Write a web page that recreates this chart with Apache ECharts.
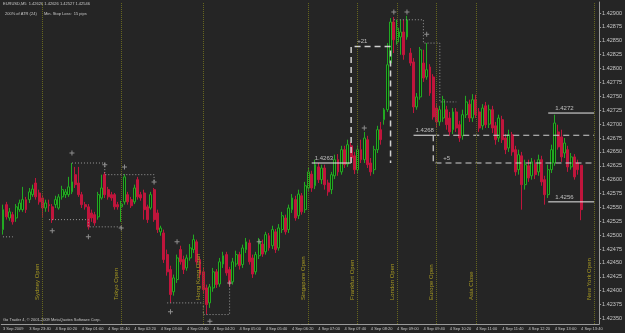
<!DOCTYPE html>
<html><head><meta charset="utf-8">
<script src="https://cdn.jsdelivr.net/npm/echarts@6/dist/echarts.min.js"></script>
<style>html,body{margin:0;padding:0;background:#252525;}#c{width:625px;height:333px;}</style>
</head><body><div id="c"></div>
<script>
const opens=[1.42510,1.42555,1.42531,1.42537,1.42531,1.42546,1.42546,1.42564,1.42564,1.42573,1.42594,1.42576,1.42567,1.42549,1.42555,1.42551,1.42555,1.42549,1.42569,1.42573,1.42573,1.42578,1.42609,1.42594,1.42573,1.42555,1.42551,1.42540,1.42537,1.42533,1.42567,1.42609,1.42582,1.42573,1.42573,1.42555,1.42551,1.42560,1.42573,1.42564,1.42560,1.42600,1.42573,1.42576,1.42551,1.42549,1.42582,1.42540,1.42506,1.42504,1.42465,1.42438,1.42398,1.42420,1.42474,1.42456,1.42441,1.42459,1.42474,1.42488,1.42456,1.42434,1.42405,1.42378,1.42405,1.42434,1.42412,1.42448,1.42465,1.42438,1.42416,1.42448,1.42465,1.42447,1.42474,1.42486,1.42459,1.42434,1.42463,1.42484,1.42470,1.42499,1.42481,1.42506,1.42477,1.42510,1.42531,1.42510,1.42546,1.42564,1.42535,1.42571,1.42546,1.42585,1.42610,1.42589,1.42623,1.42600,1.42621,1.42594,1.42582,1.42607,1.42636,1.42614,1.42654,1.42628,1.42661,1.42643,1.42618,1.42654,1.42636,1.42672,1.42630,1.42618,1.42654,1.42690,1.42708,1.42726,1.42810,1.42884,1.42848,1.42857,1.42866,1.42857,1.42828,1.42812,1.42731,1.42749,1.42810,1.42785,1.42803,1.42785,1.42729,1.42704,1.42711,1.42726,1.42711,1.42690,1.42722,1.42699,1.42679,1.42717,1.42736,1.42711,1.42744,1.42722,1.42697,1.42733,1.42700,1.42726,1.42697,1.42675,1.42708,1.42675,1.42657,1.42681,1.42654,1.42618,1.42643,1.42591,1.42625,1.42607,1.42628,1.42614,1.42636,1.42600,1.42573,1.42618,1.42630,1.42686,1.42677,1.42648,1.42654,1.42623,1.42641,1.42630,1.42626];
const highs=[1.42555,1.42560,1.42549,1.42542,1.42556,1.42564,1.42587,1.42569,1.42585,1.42591,1.42603,1.42582,1.42573,1.42564,1.42564,1.42556,1.42571,1.42574,1.42589,1.42583,1.42605,1.42630,1.42623,1.42623,1.42578,1.42560,1.42556,1.42546,1.42542,1.42578,1.42609,1.42614,1.42587,1.42578,1.42576,1.42560,1.42562,1.42610,1.42578,1.42569,1.42591,1.42605,1.42578,1.42582,1.42555,1.42578,1.42585,1.42546,1.42517,1.42510,1.42474,1.42445,1.42429,1.42465,1.42481,1.42463,1.42465,1.42484,1.42501,1.42492,1.42461,1.42441,1.42411,1.42412,1.42441,1.42439,1.42459,1.42470,1.42470,1.42443,1.42459,1.42472,1.42470,1.42483,1.42495,1.42492,1.42465,1.42470,1.42495,1.42492,1.42506,1.42504,1.42517,1.42511,1.42520,1.42542,1.42537,1.42555,1.42574,1.42571,1.42582,1.42576,1.42596,1.42621,1.42616,1.42636,1.42630,1.42627,1.42627,1.42600,1.42614,1.42645,1.42646,1.42661,1.42661,1.42672,1.42668,1.42650,1.42663,1.42672,1.42686,1.42679,1.42639,1.42661,1.42697,1.42704,1.42729,1.42846,1.42891,1.42893,1.42888,1.42888,1.42888,1.42895,1.42837,1.42819,1.42756,1.42839,1.42834,1.42846,1.42808,1.42790,1.42736,1.42733,1.42751,1.42733,1.42722,1.42729,1.42729,1.42706,1.42726,1.42751,1.42744,1.42754,1.42753,1.42729,1.42736,1.42740,1.42735,1.42733,1.42704,1.42717,1.42715,1.42682,1.42690,1.42686,1.42661,1.42654,1.42650,1.42636,1.42636,1.42639,1.42636,1.42645,1.42643,1.42607,1.42627,1.42663,1.42717,1.42699,1.42690,1.42675,1.42661,1.42648,1.42646,1.42636,1.42626];
const lows=[1.42501,1.42528,1.42526,1.42519,1.42524,1.42542,1.42542,1.42540,1.42558,1.42569,1.42564,1.42555,1.42533,1.42542,1.42542,1.42522,1.42549,1.42546,1.42564,1.42567,1.42569,1.42574,1.42585,1.42569,1.42549,1.42546,1.42510,1.42524,1.42517,1.42528,1.42564,1.42567,1.42564,1.42562,1.42546,1.42546,1.42524,1.42555,1.42555,1.42549,1.42556,1.42564,1.42562,1.42528,1.42522,1.42546,1.42524,1.42504,1.42499,1.42450,1.42427,1.42378,1.42391,1.42414,1.42447,1.42430,1.42436,1.42454,1.42468,1.42447,1.42423,1.42394,1.42357,1.42369,1.42398,1.42405,1.42407,1.42441,1.42427,1.42407,1.42411,1.42443,1.42438,1.42441,1.42468,1.42447,1.42423,1.42429,1.42457,1.42461,1.42465,1.42472,1.42475,1.42468,1.42472,1.42504,1.42501,1.42504,1.42540,1.42526,1.42529,1.42537,1.42540,1.42580,1.42578,1.42583,1.42594,1.42592,1.42582,1.42571,1.42574,1.42601,1.42607,1.42609,1.42621,1.42623,1.42632,1.42610,1.42612,1.42630,1.42630,1.42621,1.42607,1.42610,1.42648,1.42663,1.42699,1.42722,1.42805,1.42828,1.42843,1.42825,1.42816,1.42852,1.42805,1.42720,1.42726,1.42744,1.42776,1.42780,1.42751,1.42708,1.42693,1.42697,1.42704,1.42690,1.42679,1.42682,1.42686,1.42668,1.42672,1.42711,1.42704,1.42704,1.42711,1.42686,1.42690,1.42693,1.42693,1.42684,1.42663,1.42668,1.42666,1.42646,1.42650,1.42643,1.42607,1.42609,1.42546,1.42582,1.42596,1.42600,1.42601,1.42607,1.42589,1.42555,1.42567,1.42612,1.42625,1.42654,1.42632,1.42639,1.42614,1.42618,1.42600,1.42609,1.42527];
const closes=[1.42546,1.42533,1.42542,1.42524,1.42551,1.42558,1.42564,1.42546,1.42578,1.42583,1.42569,1.42560,1.42549,1.42558,1.42553,1.42528,1.42564,1.42569,1.42582,1.42578,1.42587,1.42596,1.42591,1.42573,1.42555,1.42551,1.42515,1.42531,1.42522,1.42573,1.42585,1.42573,1.42569,1.42567,1.42551,1.42551,1.42556,1.42605,1.42560,1.42553,1.42585,1.42569,1.42567,1.42546,1.42528,1.42573,1.42528,1.42510,1.42513,1.42456,1.42434,1.42393,1.42423,1.42459,1.42452,1.42438,1.42459,1.42477,1.42492,1.42452,1.42429,1.42402,1.42375,1.42407,1.42434,1.42411,1.42452,1.42463,1.42432,1.42412,1.42452,1.42465,1.42445,1.42477,1.42488,1.42452,1.42430,1.42465,1.42488,1.42466,1.42501,1.42477,1.42510,1.42474,1.42513,1.42535,1.42506,1.42549,1.42567,1.42531,1.42574,1.42542,1.42589,1.42614,1.42585,1.42627,1.42600,1.42621,1.42591,1.42578,1.42609,1.42636,1.42614,1.42654,1.42627,1.42663,1.42639,1.42618,1.42654,1.42636,1.42675,1.42627,1.42614,1.42654,1.42690,1.42672,1.42726,1.42807,1.42884,1.42852,1.42873,1.42866,1.42825,1.42888,1.42810,1.42731,1.42749,1.42834,1.42783,1.42798,1.42756,1.42713,1.42704,1.42726,1.42744,1.42699,1.42686,1.42722,1.42693,1.42675,1.42717,1.42740,1.42711,1.42744,1.42717,1.42693,1.42729,1.42699,1.42726,1.42693,1.42672,1.42711,1.42672,1.42654,1.42681,1.42650,1.42614,1.42645,1.42591,1.42627,1.42603,1.42632,1.42609,1.42636,1.42596,1.42573,1.42618,1.42654,1.42702,1.42659,1.42641,1.42666,1.42623,1.42641,1.42605,1.42618,1.42546];

const SLOTS = 182;
const tickLabels=["3 Sep 2009","3 Sep 23:40","4 Sep 00:20","4 Sep 01:00","4 Sep 01:40","4 Sep 02:20","4 Sep 03:00","4 Sep 03:40","4 Sep 04:20","4 Sep 05:00","4 Sep 05:40","4 Sep 06:20","4 Sep 07:00","4 Sep 07:40","4 Sep 08:20","4 Sep 09:00","4 Sep 09:40","4 Sep 10:20","4 Sep 11:00","4 Sep 11:40","4 Sep 12:20","4 Sep 13:00","4 Sep 13:40"];
const priceTicks=[1.42350,1.42375,1.42400,1.42425,1.42450,1.42475,1.42500,1.42525,1.42550,1.42575,1.42600,1.42625,1.42650,1.42675,1.42700,1.42725,1.42750,1.42775,1.42800,1.42825,1.42850,1.42875,1.42900];
const yMin=1.42340, yMax=1.42920;

const hLevels=[1.42709,1.42589,1.42576];
const yellowLevel=1.42560;
const bidLevel=1.42546;

const sessionBars=[12,36,61,93,108,120,132,144,180];
const sessionNames=["Sydney Open","Tokyo Open","Hong Kong Open","Singapore Open","Frankfurt Open","London Open","Europe Open","Asia Close","New York Open"];

const swingMarks=[[21,1.42648],[31,1.42627],[37,1.42623],[46,1.42596],[15,1.42508],[26,1.42497],[36,1.42513],[53,1.42488],[51,1.42362],[63,1.42345],[69,1.42414],[78,1.42488],[110,1.42693],[119,1.42902],[123,1.42902],[129,1.42862]];

const stopA=[[0,1.42497],[3,1.42497]];
const stopB=[[14,1.42528],[26,1.42528],[26,1.42515],[36,1.42515]];
const stopC=[[21,1.42630],[31,1.42630],[31,1.42609],[46,1.42609],[46,1.42596]];
const stopD=[[50,1.42378],[61,1.42378],[61,1.42357],[69,1.42357],[69,1.42414]];
const stopE=[[119,1.42888],[128,1.42888],[128,1.42846],[133,1.42846],[133,1.42740],[138,1.42740]];

const trade1Entry=1.4263, trade1Max=1.4284, trade1Bars=[94,106,118];
const trade2Entry=1.4268, trade2Now=1.4263, trade2Bars=[125,131,180];
const lvl1272=1.4272, lvl1256=1.4256, lvlBars=[166,180];

const categories=Array.from({length:SLOTS},(_,i)=>String(i));
const candleData=opens.map((o,i)=>[o,closes[i],lows[i],highs[i]]);

const chart=echarts.init(document.getElementById('c'),null,{renderer:'canvas'});
const FONT='Liberation Sans';
const white='#e8e8e8', dashGray='#d0d0d0', txtGray='#c8c8c8';
function seg(points,style){return {type:'line',data:points,symbol:'none',silent:true,animation:false,lineStyle:style,z:4};}
function txt(point,text,pos){return {type:'scatter',data:[point],symbolSize:0,silent:true,animation:false,z:6,
  label:{show:true,formatter:text,color:'#e0e0e0',fontSize:6,fontFamily:FONT,position:pos,align:'left',verticalAlign:'top'}};}
const stopStyle={color:'#9a9a9a',width:1,type:[1,2]};

const option={
  backgroundColor:'#252525',
  animation:false,
  grid:{left:0,right:18,top:2,bottom:9,containLabel:false},
  xAxis:{type:'category',data:categories,boundaryGap:true,
    axisLine:{lineStyle:{color:'#9a9a9a'}},
    axisTick:{interval:7,alignWithLabel:true,length:2,lineStyle:{color:'#9a9a9a'}},
    axisLabel:{interval:7,showMinLabel:true,hideOverlap:false,align:'left',margin:3,fontSize:4,color:txtGray,fontFamily:FONT,
      formatter:(v,idx)=>tickLabels[idx/8]||''},
    splitLine:{show:false}},
  yAxis:{type:'value',position:'right',min:yMin,max:yMax,
    axisLine:{show:true,lineStyle:{color:'#9a9a9a'}},
    axisTick:{show:true,length:2,customValues:priceTicks,lineStyle:{color:'#9a9a9a'}},
    axisLabel:{customValues:priceTicks,formatter:v=>v.toFixed(5),fontSize:5.5,color:txtGray,margin:3,fontFamily:FONT},
    splitLine:{show:false}},
  graphic:[
    {type:'text',left:3,top:2,style:{text:'EURUSD,M5  1.42626 1.42626 1.42527 1.42546',fill:txtGray,fontSize:4,fontFamily:FONT}},
    {type:'text',left:5,top:12,style:{text:'200% of ATR (24)',fill:txtGray,fontSize:4,fontFamily:FONT}},
    {type:'text',left:44,top:12,style:{text:'Min. Stop Loss:  15 pips',fill:txtGray,fontSize:4,fontFamily:FONT}},
    {type:'text',left:3,top:318,style:{text:'Go Trader 4, © 2001-2009 MetaQuotes Software Corp.',fill:txtGray,fontSize:4,fontFamily:FONT}}
  ],
  series:[
    {type:'candlestick',data:candleData,barWidth:2.4,z:3,animation:false,
      itemStyle:{color:'#0d2e0d',color0:'#c0153c',borderColor:'#22aa22',borderColor0:'#c0153c',borderWidth:1},
      markLine:{silent:true,symbol:'none',animation:false,
        data:[
          ...hLevels.map(v=>({yAxis:v,lineStyle:{color:'#7c7c7c',type:'solid',width:1}})),
          {yAxis:yellowLevel,lineStyle:{color:'#c8c800',type:'solid',width:1}},
          {yAxis:bidLevel,lineStyle:{color:'#7a8aa8',type:'solid',width:1}},
          ...sessionBars.map((b,i)=>({xAxis:b,lineStyle:{color:'#66661e',type:'dotted',width:1},
            label:{show:true,formatter:sessionNames[i],position:'insideStartTop',color:'#a89a22',fontSize:6,fontFamily:FONT,distance:[24,2]}}))
        ],label:{show:false}}},
    {type:'scatter',data:swingMarks,symbol:'path://M4 0H6V4H10V6H6V10H4V6H0V4H4Z',symbolSize:5,itemStyle:{color:'#a8a8a8'},silent:true,animation:false,z:5},
    seg(stopA,stopStyle),seg(stopB,stopStyle),seg(stopC,stopStyle),seg(stopD,stopStyle),seg(stopE,stopStyle),
    seg([[trade1Bars[0],trade1Entry],[trade1Bars[1],trade1Entry]],{color:white,width:1}),
    seg([[trade1Bars[1],trade1Entry],[trade1Bars[1],trade1Max],[trade1Bars[2],trade1Max],[trade1Bars[2],trade1Entry]],{color:dashGray,width:1.5,type:[6,4]}),
    seg([[trade2Bars[0],trade2Entry],[trade2Bars[1],trade2Entry]],{color:white,width:1}),
    seg([[trade2Bars[1],trade2Entry],[trade2Bars[2],trade2Entry]],{color:dashGray,width:1.2,type:[6,4]}),
    seg([[trade2Bars[1],trade2Entry],[trade2Bars[1],trade2Now],[trade2Bars[2],trade2Now]],{color:dashGray,width:1.2,type:[6,4]}),
    seg([[lvlBars[0],lvl1272],[lvlBars[1],lvl1272]],{color:white,width:1}),
    seg([[lvlBars[0],lvl1256],[lvlBars[1],lvl1256]],{color:white,width:1}),
    txt([trade1Bars[0],trade1Entry],'1.4263',[3,-8]),
    txt([trade1Bars[1],trade1Max],'+21',[6,-8]),
    txt([trade2Bars[0],trade2Entry],'1.4268',[2,-8]),
    txt([trade2Bars[1],trade2Now],'+5',[10,-8]),
    txt([lvlBars[0],lvl1272],'1.4272',[7,-8]),
    txt([lvlBars[0],lvl1256],'1.4256',[7,-8])
  ]
};
chart.setOption(option);
</script></body></html>
